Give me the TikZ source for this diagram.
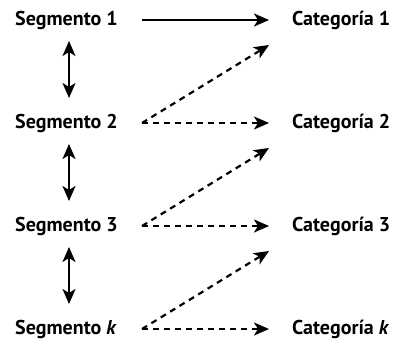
\documentclass[tikz,border=0pt]{standalone}
\usepackage{fontspec}
\setmainfont{PT Sans}
\usetikzlibrary{arrows.meta}

\begin{document}
\begin{tikzpicture}[x=1pt,y=-1pt,
    >={Stealth[length=15pt,width=13pt,inset=4pt]},
    every node/.style={font=\fontsize{20}{23}\selectfont\bfseries,inner sep=0pt},
    flow/.style={->,line width=2.2pt},
    maybe/.style={flow,dash pattern=on 6pt off 5pt},
    link/.style={<->,line width=2.2pt}]
  \useasboundingbox (0,0) rectangle (398,343);
  \path (15,20)
    node (seg1) [right] {Segmento 1} ++(0,103)
    node (seg2) [right] {Segmento 2} ++(0,103)
    node (seg3) [right] {Segmento 3} ++(0,103)
    node (segk) [right] {Segmento \textit{k}}
    (292,20)
    node (cat1) [right] {Categoría 1} ++(0,103)
    node (cat2) [right] {Categoría 2} ++(0,103)
    node (cat3) [right] {Categoría 3} ++(0,103)
    node (catk) [right] {Categoría \textit{k}}
    ;
  \path (node cs:name=seg1,anchor=west) +(127,0) coordinate (seg1o);
  \path (node cs:name=seg2,anchor=west) +(127,0) coordinate (seg2o);
  \path (node cs:name=seg3,anchor=west) +(127,0) coordinate (seg3o);
  \path (node cs:name=segk,anchor=west) +(127,0) coordinate (segko);
  \path (node cs:name=cat1,anchor=west) +(-23,0) coordinate (cat1i);
  \path (node cs:name=cat2,anchor=west) +(-23,0) coordinate (cat2i);
  \path (node cs:name=cat3,anchor=west) +(-23,0) coordinate (cat3i);
  \path (node cs:name=catk,anchor=west) +(-23,0) coordinate (catki);
  \path (node cs:name=cat1,anchor=west) +(-23,25) coordinate (cat1d);
  \path (node cs:name=cat2,anchor=west) +(-23,25) coordinate (cat2d);
  \path (node cs:name=cat3,anchor=west) +(-23,25) coordinate (cat3d);
  \draw[flow] (seg1o) -- (cat1i);
  \draw[maybe] (seg2o) -- (cat2i);
  \draw[maybe] (seg3o) -- (cat3i);
  \draw[maybe] (segko) -- (catki);
  \draw[maybe] (seg2o) -- (cat1d);
  \draw[maybe] (seg3o) -- (cat2d);
  \draw[maybe] (segko) -- (cat3d);
  \path (node cs:name=seg1,anchor=west) +(54,21) coordinate (seg1b);
  \path (node cs:name=seg2,anchor=west) +(54,-25) coordinate (seg2t);
  \path (node cs:name=seg2,anchor=west) +(54,21) coordinate (seg2b);
  \path (node cs:name=seg3,anchor=west) +(54,-25) coordinate (seg3t);
  \path (node cs:name=seg3,anchor=west) +(54,21) coordinate (seg3b);
  \path (node cs:name=segk,anchor=west) +(54,-25) coordinate (segkt);
  \draw[link] (seg1b) -- (seg2t);
  \draw[link] (seg2b) -- (seg3t);
  \draw[link] (seg3b) -- (segkt);
\end{tikzpicture}
\end{document}
